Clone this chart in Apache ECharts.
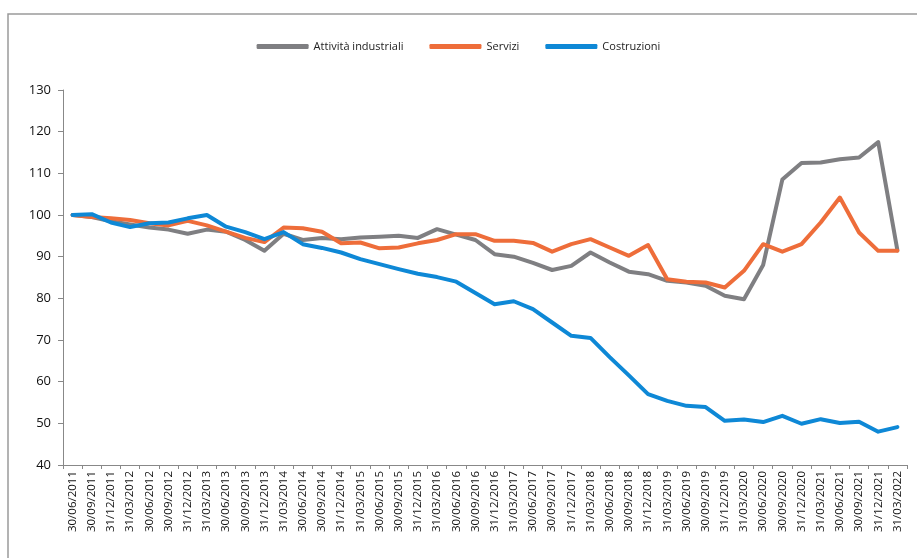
<!DOCTYPE html>
<html>
<head>
<meta charset="utf-8">
<script src="https://cdn.jsdelivr.net/npm/echarts@6/dist/echarts.min.js"></script>
<style>
  html, body { margin: 0; padding: 0; background: #fff; }
  #chart { width: 917px; height: 558px; }
</style>
</head>
<body>
<div id="chart"></div>
<script>
const categories = [
  '30/06/2011', '30/09/2011', '31/12/2011', '31/03/2012', '30/06/2012', '30/09/2012', '31/12/2012', '31/03/2013',
  '30/06/2013', '30/09/2013', '31/12/2013', '31/03/2014', '30/06/2014', '30/09/2014', '31/12/2014', '31/03/2015',
  '30/06/2015', '30/09/2015', '31/12/2015', '31/03/2016', '30/06/2016', '30/09/2016', '31/12/2016', '31/03/2017',
  '30/06/2017', '30/09/2017', '31/12/2017', '31/03/2018', '30/06/2018', '30/09/2018', '31/12/2018', '31/03/2019',
  '30/06/2019', '30/09/2019', '31/12/2019', '31/03/2020', '30/06/2020', '30/09/2020', '31/12/2020', '31/03/2021',
  '30/06/2021', '30/09/2021', '31/12/2021', '31/03/2022'
];

const industriali = [
  100, 99.5, 98.5, 97.7, 97, 96.5, 95.5, 96.5, 96, 94, 91.4, 95.5,
  94, 94.5, 94.2, 94.6, 94.8, 95, 94.5, 96.6, 95.3, 94, 90.6, 90,
  88.5, 86.8, 87.8, 91, 88.6, 86.4, 85.8, 84.2, 83.8, 83, 80.6, 79.8,
  88, 108.5, 112.5, 112.6, 113.4, 113.8, 117.5, 91.5
];

const servizi = [
  100, 99.5, 99.2, 98.8, 98, 97.5, 98.6, 97.5, 96, 94.5, 93.5, 97,
  96.8, 96, 93.2, 93.4, 92, 92.2, 93.2, 94, 95.4, 95.4, 93.8, 93.8,
  93.3, 91.2, 93, 94.2, 92.2, 90.2, 92.8, 84.6, 84, 83.8, 82.6, 86.6,
  93, 91.2, 93, 98.2, 104.2, 95.8, 91.4, 91.4
];

const costruzioni = [
  100, 100.2, 98.2, 97.1, 98, 98.2, 99.2, 100, 97.2, 95.9, 94.2, 95.9,
  93, 92.1, 91, 89.4, 88.2, 87, 85.9, 85.1, 84, 81.3, 78.6, 79.3,
  77.4, 74.2, 71, 70.5, 65.9, 61.5, 57, 55.4, 54.2, 53.9, 50.6, 50.9,
  50.3, 51.8, 49.9, 51, 50.1, 50.4, 48, 49.1
];

const yTicks = [40, 50, 60, 70, 80, 90, 100, 110, 120, 130];

const chart = echarts.init(document.getElementById('chart'), null, {renderer: 'canvas'});

const font = '"Open Sans", "Liberation Sans", sans-serif';

function lineSeries(name, data, color) {
  return {
    name: name,
    type: 'line',
    data: data,
    showSymbol: false,
    symbol: 'none',
    smooth: false,
    lineStyle: { width: 4, color: color, cap: 'round', join: 'round' },
    itemStyle: { color: color }
  };
}

const option = {
  animation: false,
  backgroundColor: '#fff',
  graphic: [
    {
      type: 'rect',
      shape: { x: 8, y: 14, width: 940, height: 600 },
      style: { fill: 'none', stroke: '#9a9a9a', lineWidth: 1.5 }
    }
  ],
  legend: {
    top: 36,
    left: 'center',
    itemWidth: 52,
    itemHeight: 5,
    itemGap: 26,
    icon: 'roundRect',
    textStyle: { fontFamily: font, fontSize: 11, color: '#222' },
    data: ['Attività industriali', 'Servizi', 'Costruzioni']
  },
  grid: { left: 63, right: 10, top: 90, bottom: 93 },
  xAxis: {
    type: 'category',
    data: categories,
    boundaryGap: true,
    axisLine: { lineStyle: { color: '#888', width: 1 } },
    axisTick: { show: true, alignWithLabel: false, length: 4, lineStyle: { color: '#888' } },
    axisLabel: {
      interval: 0,
      rotate: 90,
      margin: 6,
      fontFamily: font,
      fontSize: 11.5,
      color: '#111'
    },
    splitLine: { show: false }
  },
  yAxis: {
    type: 'value',
    min: 40,
    max: 130,
    interval: 10,
    axisLine: { show: true, lineStyle: { color: '#888', width: 1 } },
    axisTick: { show: true, length: 5, lineStyle: { color: '#888' } },
    axisLabel: {
      margin: 12,
      fontFamily: font,
      fontSize: 13,
      color: '#111',
      formatter: function (v) { return yTicks.indexOf(v) >= 0 ? String(v) : ''; }
    },
    splitLine: { show: false }
  },
  series: [
    lineSeries('Attività industriali', industriali, '#7f7f82'),
    lineSeries('Servizi', servizi, '#EE6D3A'),
    lineSeries('Costruzioni', costruzioni, '#0E88D6')
  ]
};

chart.setOption(option);
</script>
</body>
</html>
